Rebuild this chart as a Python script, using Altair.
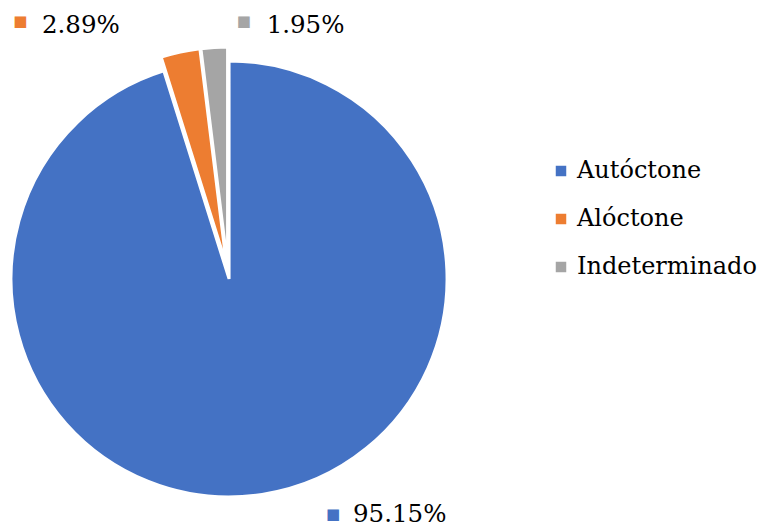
import math
import altair as alt
import pandas as pd

# ---- data ----
categories = ["Autóctone", "Alóctone", "Indeterminado"]
values = [95.15, 2.89, 1.95]
labels = ["95.15%", "2.89%", "1.95%"]
colors = ["#4472C4", "#ED7D31", "#A5A5A5"]

total = sum(values)
df = pd.DataFrame({
    "cat": categories,
    "value": values,
    "label": labels,
    "order": list(range(len(categories))),
})

# ---- style ----
EXPLODE = 7
RADIUS = 218
FONT = "DejaVu Serif"
FS_LEGEND = 24
FS_LABEL = 24.5

# label placement offsets (relative to slice outer midpoint)
label_place = {
    "Autóctone": {"key": (72, 26.5), "text": (92, 34.5)},
    "Alóctone": {"key": (-161.4, -38.4), "text": (-139.9, -26.4)},
    "Indeterminado": {"key": (29.3, -33.9), "text": (52, -21.9)},
}

theta_scale = alt.Scale(domain=[0, total], range=[0, 2 * math.pi])
color_scale = alt.Scale(domain=categories, range=colors)

legend = alt.Legend(
    orient="none", legendX=549, legendY=141, direction="vertical",
    title=None, symbolType="square", symbolSize=110, symbolStrokeWidth=0,
    labelFont=FONT, labelFontSize=FS_LEGEND, labelColor="black",
    rowPadding=24, labelOffset=4, labelLimit=400,
)

base = alt.Chart(df).transform_window(
    cum="sum(value)", sort=[alt.SortField("order", order="ascending")], frame=[None, 0]
).transform_calculate(
    start="datum.cum - datum.value",
    mid="datum.cum - datum.value / 2",
)

layers = []
cum = 0.0
for i, (c, v) in enumerate(zip(categories, values)):
    mid = cum + v / 2
    cum += v
    a = 2 * math.pi * mid / total
    layers.append(
        base.transform_filter(alt.datum.cat == c).mark_arc(
            radius=RADIUS, stroke="white", strokeWidth=3,
            xOffset=EXPLODE * math.sin(a), yOffset=-EXPLODE * math.cos(a),
        ).encode(
            theta=alt.Theta("start:Q", scale=theta_scale),
            theta2="cum:Q",
            color=alt.Color("cat:N", scale=color_scale, legend=legend),
        )
    )

for i, c in enumerate(categories):
    kx, ky = label_place[c]["key"]
    tx, ty = label_place[c]["text"]
    f = base.transform_filter(alt.datum.cat == c)
    layers.append(
        f.mark_text(
            text="■", font="DejaVu Sans", fontSize=15, align="center",
            baseline="middle", radius=RADIUS, dx=kx, dy=ky, color=colors[i],
        ).encode(theta=alt.Theta("mid:Q", scale=theta_scale))
    )
    layers.append(
        f.mark_text(
            font=FONT, fontSize=FS_LABEL, align="left", baseline="alphabetic",
            radius=RADIUS, dx=tx, dy=ty, color="black",
        ).encode(theta=alt.Theta("mid:Q", scale=theta_scale), text="label:N")
    )

chart = alt.layer(*layers).properties(
    width=456, height=508,
    padding={"left": 0, "top": 18, "right": 301, "bottom": 0},
    autosize=alt.AutoSizeParams(type="none"),
    background="white",
).configure_view(stroke=None)

chart.save("out.html", embed_options={"renderer": "svg", "actions": False})
